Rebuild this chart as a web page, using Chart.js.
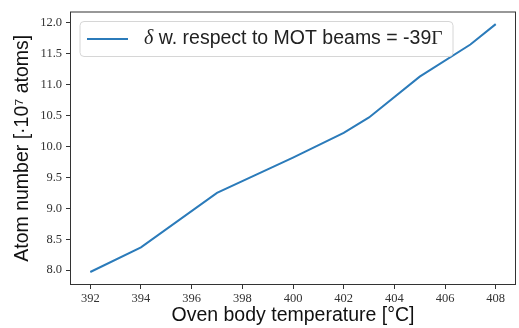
<!DOCTYPE html>
<html>
<head>
<meta charset="utf-8">
<script src="https://cdn.jsdelivr.net/npm/chart.js@4/dist/chart.umd.min.js"></script>
<style>
  html, body { margin: 0; padding: 0; background: #fff; }
  #wrap { width: 519px; height: 328px; }
</style>
</head>
<body>
<div id="wrap"><canvas id="c" width="519" height="328"></canvas></div>
<script>
// Oven body temperature (°C) and measured atom number (×10^7)
const temperatures = [392, 394, 397, 400, 402, 403, 405, 407, 408];
const atomNumbers  = [7.97, 8.37, 9.25, 9.82, 10.22, 10.47, 11.13, 11.65, 11.98];
const xTickValues  = [392, 394, 396, 398, 400, 402, 404, 406, 408];
const yTickValues  = [8.0, 8.5, 9.0, 9.5, 10.0, 10.5, 11.0, 11.5, 12.0];
const seriesLabel  = ['δ', ' w. respect to MOT beams = -39', 'Γ'];

const lineColor = '#2b7bba';
const axisColor = '#333333';
const tickFont = { family: 'Liberation Serif', size: 12.5 };
const titleFont = { family: 'Liberation Sans', size: 19.5 };

// Frame on all four sides plus an in-plot legend box
const framePlugin = {
  id: 'frameAndLegend',
  afterDraw(chart) {
    const { ctx, chartArea: a } = chart;
    ctx.save();
    ctx.strokeStyle = axisColor;
    ctx.lineWidth = 1;
    ctx.strokeRect(a.left + 0.5, a.top + 0.5, a.right - a.left - 1, a.bottom - a.top - 1);

    // legend
    const bx = a.left + 10, by = a.top + 10, bw = 373, bh = 35, r = 4;
    ctx.beginPath();
    ctx.moveTo(bx + r, by);
    ctx.arcTo(bx + bw, by, bx + bw, by + bh, r);
    ctx.arcTo(bx + bw, by + bh, bx, by + bh, r);
    ctx.arcTo(bx, by + bh, bx, by, r);
    ctx.arcTo(bx, by, bx + bw, by, r);
    ctx.closePath();
    ctx.fillStyle = 'rgba(255,255,255,0.8)';
    ctx.fill();
    ctx.strokeStyle = '#d6d6d6';
    ctx.stroke();

    const cy = by + bh / 2;
    ctx.strokeStyle = lineColor;
    ctx.lineWidth = 2;
    ctx.beginPath();
    ctx.moveTo(bx + 7, cy);
    ctx.lineTo(bx + 48, cy);
    ctx.stroke();

    ctx.fillStyle = '#222';
    ctx.textBaseline = 'middle';
    let tx = bx + 64;
    ctx.font = 'italic 20px "Liberation Serif"';
    ctx.fillText(seriesLabel[0], tx, cy);
    tx += ctx.measureText(seriesLabel[0]).width;
    ctx.font = '19.5px "Liberation Sans"';
    ctx.fillText(seriesLabel[1], tx, cy);
    tx += ctx.measureText(seriesLabel[1]).width;
    ctx.font = '19.5px "Liberation Serif"';
    ctx.fillText(seriesLabel[2], tx, cy);
    ctx.restore();
  }
};

new Chart(document.getElementById('c'), {
  type: 'line',
  data: {
    datasets: [{
      label: seriesLabel.join(''),
      data: temperatures.map((t, i) => ({ x: t, y: atomNumbers[i] })),
      borderColor: lineColor,
      borderWidth: 2,
      pointRadius: 0,
      tension: 0,
      fill: false
    }]
  },
  options: {
    responsive: false,
    animation: false,
    layout: { padding: { top: 4, right: 3, left: 0, bottom: 0 } },
    plugins: { legend: { display: false }, tooltip: { enabled: false } },
    scales: {
      x: {
        type: 'linear',
        min: 391.2,
        max: 408.8,
        afterBuildTicks: s => { s.ticks = xTickValues.map(v => ({ value: v })); },
        afterFit: s => { s.height = 43; },
        border: { display: false },
        grid: { display: true, drawOnChartArea: false, drawTicks: true, tickLength: 4, color: axisColor, tickColor: axisColor },
        ticks: { font: tickFont, color: '#333', padding: 2, maxRotation: 0, callback: v => String(v) },
        title: { display: true, text: 'Oven body temperature [°C]', font: titleFont, color: '#111', padding: { top: 0, bottom: 1 } }
      },
      y: {
        type: 'linear',
        min: 7.76,
        max: 12.184,
        afterBuildTicks: s => { s.ticks = yTickValues.map(v => ({ value: v })); },
        afterFit: s => { s.width = 70; },
        border: { display: false },
        grid: { display: true, drawOnChartArea: false, drawTicks: true, tickLength: 4, color: axisColor, tickColor: axisColor },
        ticks: { font: tickFont, color: '#333', padding: 4, callback: v => v.toFixed(1) },
        title: { display: true, text: 'Atom number [·10⁷ atoms]', font: titleFont, color: '#111', padding: { top: 11, bottom: 0 } }
      }
    }
  },
  plugins: [framePlugin]
});
</script>
</body>
</html>
